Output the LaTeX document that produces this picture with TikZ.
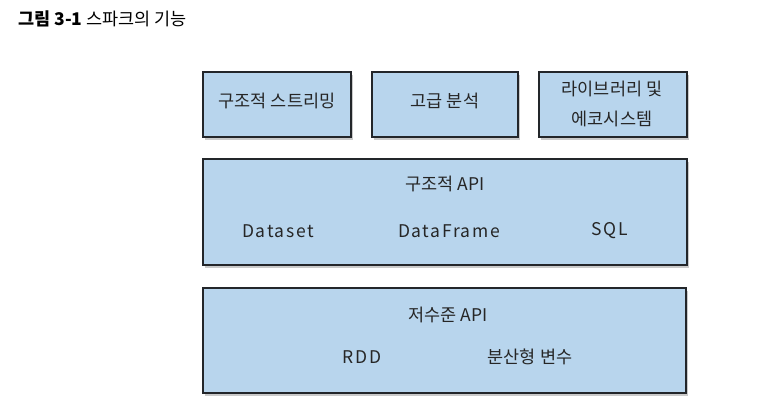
\documentclass[tikz,border=0pt]{standalone}
\usepackage{fontspec}
\setmainfont{Noto Sans CJK KR}
\usetikzlibrary{shadows}
\definecolor{boxblue}{RGB}{184,213,237}
\definecolor{boxline}{RGB}{35,38,42}
\tikzset{
  layerbox/.style={draw=boxline, line width=2.4pt, fill=boxblue, inner sep=0pt,
    drop shadow={shadow xshift=1.5pt, shadow yshift=-2.5pt, opacity=0.35, fill=black!60}},
  lbl/.style={font=\fontsize{17.5}{22}\selectfont, text=black!85, align=center, inner sep=0pt},
  latinlbl/.style={lbl, font=\fontsize{17.5}{22}\selectfont\addfontfeature{LetterSpace=9}},
}
\begin{document}
\begin{tikzpicture}[x=1pt,y=-1pt]
\useasboundingbox (0,0) rectangle (760,416);
\node[anchor=west, inner sep=0pt, font=\fontsize{17.5}{20}\selectfont] (title) at (18,19) {\textbf{그림 3-1} 스파크의 기능};

\node[layerbox, minimum width=148pt, minimum height=65pt] (b1) at (277,104.5) {};
\node[layerbox, minimum width=146pt, minimum height=65pt] (b2) at (445,104.5) {};
\node[layerbox, minimum width=148pt, minimum height=65pt] (b3) at (613,104.5) {};
\node[layerbox, minimum width=484pt, minimum height=106pt] (mid) at (445,212) {};
\node[layerbox, minimum width=483pt, minimum height=105pt] (low) at (444.5,340.5) {};

\node[lbl] (t1) at (277,101) {구조적 스트리밍};
\node[lbl] (t2) at (445,101) {고급 분석};
\node[lbl] (t3a) at (612,89) {라이브러리 및};
\node[lbl] (t3b) at (612,119) {에코시스템};

\node[lbl] (midt) at (445,184) {구조적 API};
\node[latinlbl] (ds) at (278,231) {Dataset};
\node[latinlbl] (df) at (449,231) {DataFrame};
\node[latinlbl] (sql) at (610,231) {SQL};

\node[lbl] (lowt) at (448,315) {저수준 API};
\node[latinlbl] (rdd) at (362,357) {RDD};
\node[lbl] (bv) at (530,357) {분산형 변수};
\end{tikzpicture}
\end{document}
